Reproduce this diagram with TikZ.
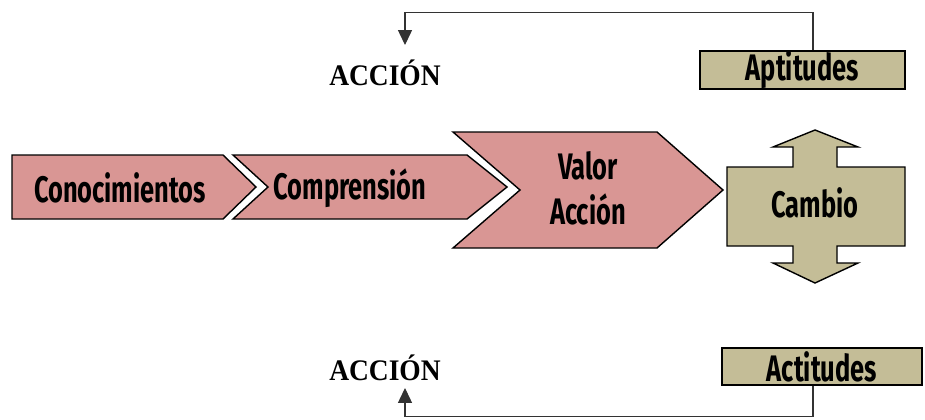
\documentclass[tikz,border=0pt]{standalone}
\usepackage{fontspec}
\usepackage{tikz}
\usetikzlibrary{arrows.meta}
\newfontfamily\agency[FakeStretch=0.69]{Fira Sans}
\newfontfamily\western[FakeStretch=0.92]{Liberation Serif}
\definecolor{shaded-pink}{RGB}{217,150,148}
\definecolor{shaded-tan}{RGB}{196,189,151}
\tikzstyle{pinkshape}=[fill=shaded-pink, draw=black, line width=.8pt, line join=miter]
\tikzstyle{tanshape}=[fill=shaded-tan, draw=black, line width=.8pt]
\tikzstyle{label}=[font=\agency\bfseries\fontsize{21}{24}\selectfont, inner sep=0pt]
\tikzstyle{tanbox}=[tanshape, label, anchor=center]
\tikzstyle{action}=[font=\western\bfseries\fontsize{17}{20}\selectfont, inner sep=0pt]
\tikzstyle{link}=[draw=black!80, line width=.6pt, -{Triangle[width=8pt,length=8.5pt]}]
\tikzstyle{pixels}=[x=.02cm, y=-.02cm]

\begin{document}
\begin{tikzpicture}[pixels]
	\useasboundingbox (0,0) rectangle (925,419);
	\filldraw[pinkshape] (12,155)--(223,155)--(256,187)--(223,219)--(12,219)--cycle;
	\filldraw[pinkshape] (233,155)--(467,155)--(507,187)--(467,219)--(233,219)--(268,187)--cycle;
	\filldraw[pinkshape] (453,132)--(657,132)--(723,190)--(657,248)--(453,248)--(520,190)--cycle;
	\filldraw[tanshape] (727,167)--(793,167)--(793,147)--(773,147)--(815,130)--(858,147)--(837,147)--(837,167)--(905,167)--(905,246)--(837,246)--(837,263)--(858,263)--(815,283)--(773,263)--(793,263)--(793,246)--(727,246)--cycle;
	\node[label] (con) at (120,188) {Conocimientos};
	\node[label] (com) at (350,188) {Comprensión};
	\node[label] (val) at (588,166) {Valor};
	\node[label] (vac) at (588,209) {Acción};
	\node[label] (cam) at (815,203) {Cambio};
	\node[tanbox, minimum width=4.1cm, minimum height=.68cm] (apt) at (802.5,70) {Aptitudes};
	\node[tanbox, minimum width=4cm, minimum height=.74cm] (act) at (822,366.5) {Actitudes};
	\node[action] (acc1) at (385,73) {ACCIÓN};
	\node[action] (acc2) at (385,368) {ACCIÓN};
	\coordinate (a1) at (405,45);
	\coordinate (a2) at (405,388);
	\draw[link] ([xshift=.21cm]apt.north) -- ++(0,-38) -| (a1);
	\draw[link] ([xshift=-.18cm]act.south) -- ++(0,31) -| (a2);
\end{tikzpicture}
\end{document}
